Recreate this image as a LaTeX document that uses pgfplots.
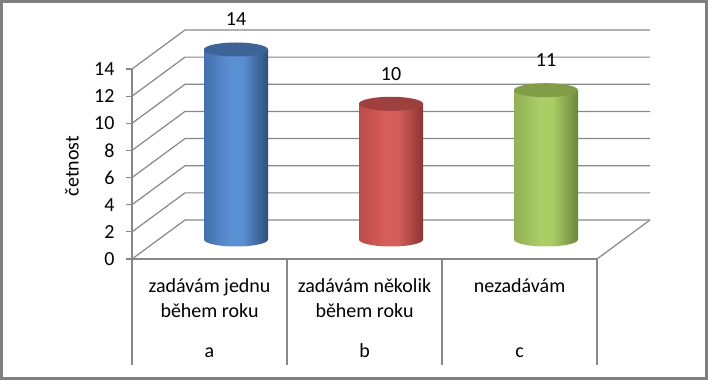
\documentclass[border=0pt]{standalone}
\usepackage{pgfplots}
\pgfplotsset{compat=1.18}
\usepackage{fontspec}
\setmainfont{Carlito}
\definecolor{gridc}{HTML}{888888}
\definecolor{framec}{HTML}{7F7F7F}
\definecolor{bL}{HTML}{4470AB}
\definecolor{bM}{HTML}{5B8FD4}
\definecolor{bR}{HTML}{2E4F7C}
\definecolor{bT}{HTML}{3D6397}
\definecolor{rL}{HTML}{BD4B48}
\definecolor{rM}{HTML}{D65D5A}
\definecolor{rR}{HTML}{8A3533}
\definecolor{rT}{HTML}{9E413E}
\definecolor{gL}{HTML}{92B055}
\definecolor{gM}{HTML}{AACD66}
\definecolor{gR}{HTML}{6C853A}
\definecolor{gT}{HTML}{819D48}
\pgfdeclarehorizontalshading{blueshade}{100bp}{color(0bp)=(bL); color(25bp)=(bL); color(45bp)=(bM); color(55bp)=(bM); color(75bp)=(bR); color(100bp)=(bR)}
\pgfdeclarehorizontalshading{redshade}{100bp}{color(0bp)=(rL); color(25bp)=(rL); color(45bp)=(rM); color(55bp)=(rM); color(75bp)=(rR); color(100bp)=(rR)}
\pgfdeclarehorizontalshading{greenshade}{100bp}{color(0bp)=(gL); color(25bp)=(gL); color(45bp)=(gM); color(55bp)=(gM); color(75bp)=(gR); color(100bp)=(gR)}
\pgfdeclareplotmark{cylbotb}{\pgfpathellipse{\pgfpointorigin}{\pgfpoint{32pt}{0pt}}{\pgfpoint{0pt}{7pt}}\pgfshadepath{blueshade}{0}\pgfusepath{}}
\pgfdeclareplotmark{cylbotr}{\pgfpathellipse{\pgfpointorigin}{\pgfpoint{32pt}{0pt}}{\pgfpoint{0pt}{7pt}}\pgfshadepath{redshade}{0}\pgfusepath{}}
\pgfdeclareplotmark{cylbotg}{\pgfpathellipse{\pgfpointorigin}{\pgfpoint{32pt}{0pt}}{\pgfpoint{0pt}{7pt}}\pgfshadepath{greenshade}{0}\pgfusepath{}}
\pgfdeclareplotmark{cyltop}{\pgfpathellipse{\pgfpointorigin}{\pgfpoint{32pt}{0pt}}{\pgfpoint{0pt}{7pt}}\pgfusepathqfill}
\newcommand\bigf{\fontsize{20}{25}\selectfont}
\begin{document}
\begin{tikzpicture}
\fill[framec] (0,0) rectangle (708pt,380pt);
\fill[white] (3pt,3pt) rectangle (705pt,377pt);
% front plane axis
\begin{axis}[at={(132pt,121pt)}, anchor=south west, scale only axis,
  width=465pt, height=190pt, xmin=-0.5, xmax=2.5, ymin=0, ymax=14, clip=false,
  axis x line*=bottom, axis y line*=left,
  axis line style={gridc, line width=1.2pt},
  xtick=\empty, ytick={0,2,...,14},
  tick align=outside, major tick length=6pt,
  tick style={gridc, line width=1.2pt},
  yticklabel style={font=\bigf, text=black, xshift=-8pt},
  /pgf/number format/assume math mode=true,
  ylabel={četnost},
  ylabel style={font=\bigf, at={(axis description cs:-0.129,0.49)}, anchor=center},
]
\pgfplotsinvokeforeach{0,2,...,14}{
  \draw[gridc, line width=1.2pt] (axis cs:-0.5,#1) -- (axis cs:-0.1581,#1+2.8737) -- (axis cs:2.8419,#1+2.8737);
}
\draw[gridc, line width=1.2pt] (axis cs:2.5,0) -- (axis cs:2.8419,2.8737);
\pgfplotsinvokeforeach{-0.5,0.5,1.5,2.5}{
  \draw[gridc, line width=1.2pt] (axis cs:#1,0) -- (axis cs:#1,-7.81);
}
\node[font=\bigf, anchor=base] at (axis cs:0,0) [yshift=-33pt] {zadávám jednu};
\node[font=\bigf, anchor=base] at (axis cs:0,0) [yshift=-58pt] {během roku};
\node[font=\bigf, anchor=base] at (axis cs:1,0) [yshift=-33pt] {zadávám několik};
\node[font=\bigf, anchor=base] at (axis cs:1,0) [yshift=-58pt] {během roku};
\node[font=\bigf, anchor=base] at (axis cs:2,0) [yshift=-33pt] {nezadávám};
\node[font=\bigf, anchor=base] at (axis cs:0,0) [yshift=-98.7pt] {a};
\node[font=\bigf, anchor=base] at (axis cs:1,0) [yshift=-98.7pt] {b};
\node[font=\bigf, anchor=base] at (axis cs:2,0) [yshift=-98.7pt] {c};
\end{axis}
% mid-depth axis for cylinders
\begin{axis}[at={(158.5pt,140.5pt)}, anchor=south west, scale only axis,
  width=465pt, height=190pt, xmin=-0.5, xmax=2.5, ymin=0, ymax=14,
  hide axis, clip=false,
  /pgf/number format/assume math mode=true,
  every node near coord/.append style={font=\bigf, text=black, anchor=center, yshift=30pt},
]
\addplot[only marks, mark=cylbotb] coordinates {(0,0)};
\addplot[only marks, mark=cylbotr] coordinates {(1,0)};
\addplot[only marks, mark=cylbotg] coordinates {(2,0)};
\addplot[ybar, bar width=64pt, bar shift=0pt, draw=none, shade, shading=blueshade, nodes near coords] coordinates {(0,14)};
\addplot[ybar, bar width=64pt, bar shift=0pt, draw=none, shade, shading=redshade, nodes near coords] coordinates {(1,10)};
\addplot[ybar, bar width=64pt, bar shift=0pt, draw=none, shade, shading=greenshade, nodes near coords] coordinates {(2,11)};
\addplot[only marks, mark=cyltop, mark options={fill=bT, draw=none}] coordinates {(0,14)};
\addplot[only marks, mark=cyltop, mark options={fill=rT, draw=none}] coordinates {(1,10)};
\addplot[only marks, mark=cyltop, mark options={fill=gT, draw=none}] coordinates {(2,11)};
\end{axis}
\pgfresetboundingbox
\path (0,0) rectangle (708pt,380pt);
\end{tikzpicture}
\end{document}
